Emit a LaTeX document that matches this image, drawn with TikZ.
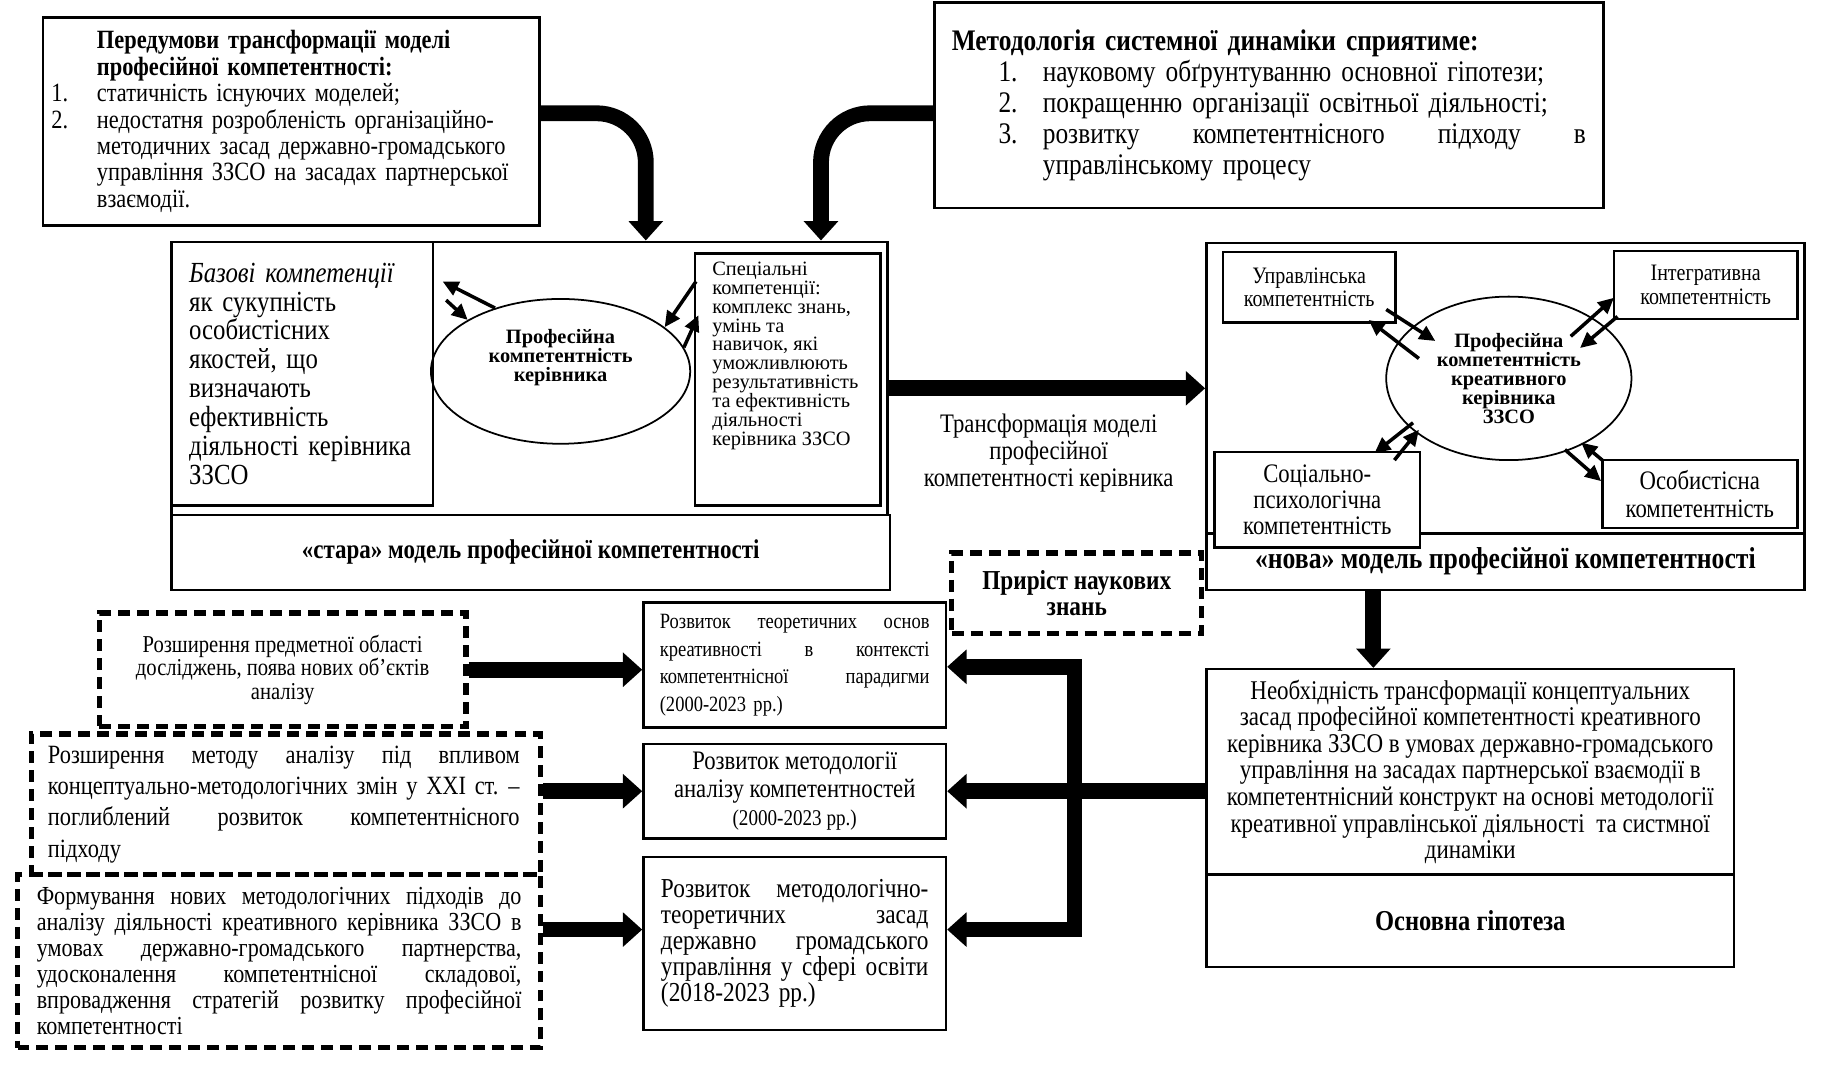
\documentclass[tikz,border=0pt]{standalone}
\usepackage{fontspec}
\setmainfont{Liberation Serif}[FakeStretch=0.85]
\newfontfamily\plainfont{Liberation Serif}
\usetikzlibrary{arrows.meta,shapes.geometric}
\newlength{\upx}\setlength{\upx}{0.1168mm}
\newcommand{\fs}[2]{\fontsize{#1}{#2}\selectfont}
\newcommand{\num}[1]{\makebox[39\upx][l]{#1}}
\newcommand{\jline}[2]{\makebox[#1][s]{\spaceskip=0.25em plus 1fil\xspaceskip=0.3em plus 1fil\relax #2}}
\tikzset{
  box/.style={draw, line width=0.7pt, inner sep=0pt},
  dbox/.style={draw, line width=1.5pt, dash pattern=on 3.4pt off 2pt, inner sep=0pt},
  fat/.style={line width=4.5pt, -{Triangle[width=9.5pt,length=5.5pt]}},
  fatbar/.style={line width=4.5pt, line cap=rect},
  thinarr/.style={line width=1pt, -{Triangle[width=4.2pt,length=4.5pt]}},
}

\begin{document}
\begin{tikzpicture}[x=\upx, y=-1\upx]
    \useasboundingbox (0,0) rectangle (1567,925);

    % top boxes
    \node[box, text width=411\upx, inner xsep=7\upx, minimum width=425\upx, minimum height=178\upx,
          align=left, font={\fs{7.5}{7.5}}] (pre) at (249.5,104) {%
      \num{}\textbf{Передумови трансформації моделі}\\
      \num{}\textbf{професійної компетентності:}\\
      \num{1.}статичність існуючих моделей;\\
      \num{2.}недостатня розробленість організаційно-\\
      \num{}методичних засад державно-громадського\\
      \num{}управління ЗЗСО на засадах партнерської\\
      \num{}взаємодії.};
    \node[box, text width=543\upx, inner xsep=15\upx, minimum width=573\upx, minimum height=176\upx,
          align=left, font={\fs{8.5}{8.8}}] (meth) at (1086.5,90) {%
      \textbf{Методологія системної динаміки сприятиме:}\\
      \hspace*{40\upx}\makebox[38\upx][l]{1.}науковому обґрунтуванню основної гіпотези;\\
      \hspace*{40\upx}\makebox[38\upx][l]{2.}покращенню організації освітньої діяльності;\\
      \hspace*{40\upx}\makebox[38\upx][l]{3.}\jline{465\upx}{розвитку компетентнісного підходу в}\\
      \hspace*{78\upx}управлінському процесу};

    % "stara" model
    \node[box, minimum width=613\upx, minimum height=234\upx] (oldm) at (453.5,324) {};
    \node[box, minimum width=615\upx, minimum height=64\upx, font={\bfseries\fs{7.7}{8}}] (oldlab) at (454.5,473)
      {«стара» модель професійної компетентності};
    \node[box, text width=194\upx, inner xsep=15\upx, minimum height=226\upx, align=left,
          font={\fs{8.3}{8.2}}] (bas) at (259,320) {%
      \textit{Базові компетенції}\\як сукупність\\особистісних\\якостей, що\\визначають\\ефективність\\діяльності керівника\\ЗЗСО\\[3pt]};
    \node[box, inner xsep=15\upx, font={\plainfont\fs{5.8}{5.4}}] (spec) at (674.5,325) {%
      \parbox[c][216\upx][t]{129\upx}{\raggedright\vspace*{7\upx}Спеціальні\\компетенції:\\комплекс знань,\\умінь та\\навичок, які\\уможливлюють\\результативність\\та ефективність\\діяльності\\керівника ЗЗСО}};
    \node[ellipse, draw, line width=0.5pt, minimum width=222\upx, minimum height=124\upx] (eo) at (480,318) {};
    \node[align=center, font={\plainfont\bfseries\fs{5.8}{5.4}}] (eotxt) at (480,306) {Професійна\\компетентність\\керівника};

    \coordinate (o1) at (379,241);
    \coordinate (o2) at (382,257);
    \coordinate (o3) at (596,241);
    \coordinate (o4) at (598,270);
    \draw[thinarr] (eo.136) -- (o1);
    \draw[thinarr] (o2) -- (eo.151);
    \draw[thinarr] (o3) -- (eo.23);
    \draw[thinarr] (eo.11) -- (o4);

    \coordinate (ca) at (553,0);
    \coordinate (cb) at (703,0);
    \draw[fat, rounded corners=14pt] ([yshift=7\upx]pre.east) -| (oldm.north -| ca);
    \draw[fat, rounded corners=14pt] ([yshift=-7\upx]meth.west) -| (oldm.north -| cb);

    % transformation
    \node[align=center, font={\fs{7.6}{7.8}}] (trtxt) at (898,388)
      {Трансформація моделі\\професійної\\компетентності керівника};

    % "nova" model
    \node[box, minimum width=512\upx, minimum height=249\upx] (newm) at (1289,332.5) {};
    \node[box, minimum width=512\upx, minimum height=48\upx, font={\bfseries\fs{8.6}{8}}] (newlab) at (1289,481)
      {«нова» модель професійної компетентності};
    \node[box, fill=white, minimum width=148\upx, minimum height=60\upx, align=center,
          font={\fs{6.7}{6.7}}] (upr) at (1121,246) {Управлінська\\компетентність};
    \node[box, fill=white, minimum width=157\upx, minimum height=58\upx, align=center,
          font={\fs{6.7}{6.7}}] (integ) at (1460.5,244) {Інтегративна\\компетентність};
    \node[box, fill=white, minimum width=176\upx, minimum height=82\upx, align=center,
          font={\fs{7.6}{7.3}}] (soc) at (1128,428) {Соціально-\\психологічна\\компетентність};
    \node[box, fill=white, minimum width=167\upx, minimum height=58\upx, align=center,
          font={\fs{7.6}{8}}] (osob) at (1455.5,423) {Особистісна\\компетентність};
    \node[ellipse, draw, line width=0.5pt, inner sep=0pt, minimum width=210\upx, minimum height=140\upx,
          align=center, font={\plainfont\bfseries\fs{5.8}{5.4}}] (en) at (1292,324)
      {Професійна\\компетентність\\креативного\\керівника\\ЗЗСО};

    \foreach \n/\p in {n1/{1187,265}, n2/{1229,292}, n3/{1215,307}, n4/{1172,274},
                       n5/{1345,288}, n6/{1382,255}, n7/{1385,271}, n8/{1353,298},
                       n9/{1210,362}, n10/{1177,388}, n11/{1194,394}, n12/{1215,368},
                       n13/{1340,385}, n14/{1371,412}, n15/{1372,394}, n16/{1354,379}}
      \coordinate (\n) at (\p);
    \draw[thinarr] (n1) -- (n2);
    \draw[thinarr] (n3) -- (n4);
    \draw[thinarr] (n5) -- (n6);
    \draw[thinarr] (n7) -- (n8);
    \draw[thinarr] (n9) -- (n10);
    \draw[thinarr] (n11) -- (n12);
    \draw[thinarr] (n13) -- (n14);
    \draw[thinarr] (n15) -- (n16);

    \draw[fat] (oldm.east |- newm.west) -- (newm.west);

    % hypothesis
    \node[box, minimum width=452\upx, minimum height=176\upx, align=center, font={\fs{7.7}{7.55}}] (hyp) at (1259,661) {%
      Необхідність трансформації концептуальних\\засад професійної компетентності креативного\\керівника ЗЗСО в умовах державно-громадського\\управління на засадах партнерської взаємодії в\\компетентнісний конструкт на основі методології\\креативної управлінської діяльності \ та систмної\\динаміки};
    \node[box, minimum width=452\upx, minimum height=79\upx, font={\bfseries\fs{8.2}{9}}] (hyp2) at (1259,788.5) {Основна гіпотеза};
    \coordinate (dn) at (1176,0);
    \draw[fat] (newlab.south -| dn) -- (hyp.north -| dn);

    \node[dbox, minimum width=214\upx, minimum height=69\upx, align=center, font={\bfseries\fs{7.8}{7.5}}] (pri) at (922,508)
      {Приріст наукових\\знань};

    % left column
    \node[dbox, minimum width=314\upx, minimum height=97\upx, align=center, font={\fs{6.9}{6.7}}] (lone) at (242,573.5)
      {Розширення предметної області\\досліджень, поява нових об’єктів\\аналізу};
    \node[dbox, text width=408\upx, inner xsep=14\upx, minimum height=120.5\upx, align=left,
          font={\fs{7.5}{8.9}}] (ltwo) at (245,688.75) {%
      \jline{404\upx}{Розширення методу аналізу під впливом}\\
      \jline{404\upx}{концептуально-методологічних змін у XXI ст. –}\\
      \jline{404\upx}{поглиблений розвиток компетентнісного}\\
      підходу};
    \node[dbox, text width=415\upx, inner xsep=16.5\upx, minimum height=148\upx, align=left,
          font={\fs{7.4}{7.4}}] (lthree) at (239,823) {%
      \jline{415\upx}{Формування нових методологічних підходів до}\\
      \jline{415\upx}{аналізу діяльності креативного керівника ЗЗСО в}\\
      \jline{415\upx}{умовах державно-громадського партнерства,}\\
      \jline{415\upx}{удосконалення компетентнісної складової,}\\
      \jline{415\upx}{впровадження стратегій розвитку професійної}\\
      компетентності};

    % middle column
    \node[box, text width=231\upx, inner xsep=14\upx, minimum height=107\upx, align=left,
          font={\fs{6.2}{7.8}}] (mone) at (680.5,569.5) {%
      \jline{231\upx}{Розвиток теоретичних основ}\\\jline{231\upx}{креативності в контексті}\\\jline{231\upx}{компетентнісної парадигми}\\(2000-2023 рр.)};
    \node[box, minimum width=259\upx, minimum height=81\upx, align=center, font={\fs{7.6}{8}}] (mtwo) at (680.5,677.5)
      {Розвиток методології\\аналізу компетентностей\\{\fontsize{6.4}{8}\selectfont(2000-2023 рр.)}};
    \node[box, text width=229\upx, inner xsep=15\upx, minimum height=148\upx, align=left,
          font={\fs{7.8}{7.4}}] (mthree) at (680.5,808) {%
      \jline{229\upx}{Розвиток методологічно-}\\\jline{229\upx}{теоретичних засад}\\\jline{229\upx}{державно громадського}\\\jline{229\upx}{управління у сфері освіти}\\(2018-2023 рр.)};

    % connectors
    \coordinate (bart) at (920,571);
    \coordinate (barb) at (920,796);
    \draw[fatbar] (bart) -- (barb);
    \draw[fat] (bart) -- (mone.east |- bart);
    \draw[fat] (barb) -- (mthree.east |- barb);
    \draw[fat] (hyp.west |- mtwo.east) -- (mtwo.east);
    \draw[fat] (lone.east) -- (mone.west |- lone.east);
    \draw[fat] (ltwo.east |- mtwo.west) -- (mtwo.west);
    \draw[fat] (lthree.east |- barb) -- (mthree.west |- barb);
\end{tikzpicture}
\end{document}
